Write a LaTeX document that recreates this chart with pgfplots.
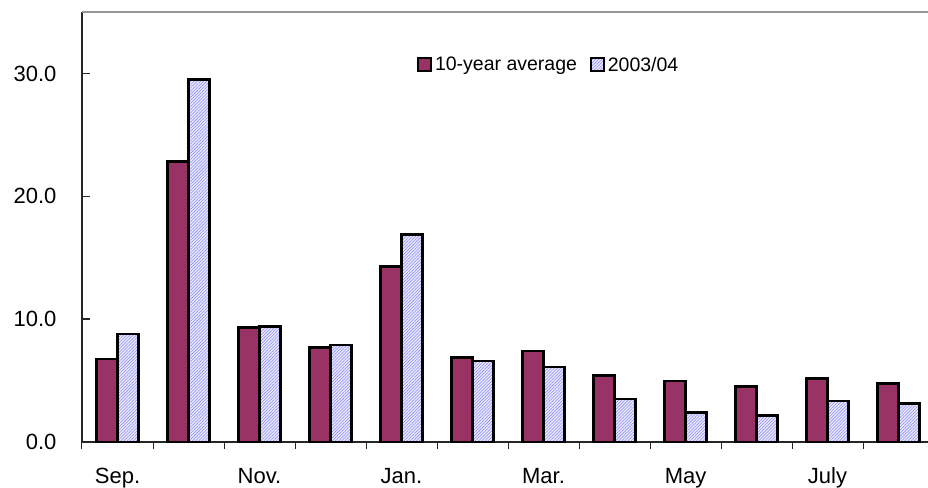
\documentclass[border=0pt]{standalone}
\usepackage{fontspec}
\setmainfont{Liberation Sans}
\usepackage{pgfplots}
\pgfplotsset{compat=1.18}
\usetikzlibrary{patterns.meta}

\definecolor{avgpurple}{RGB}{153,51,102}
\definecolor{hatchbg}{RGB}{232,232,255}
\definecolor{hatchline}{RGB}{140,140,245}
\definecolor{framegray}{RGB}{150,150,150}

% Monthly values: 10-year average and 2003/04
\pgfplotstableread{
idx avg    cur
0   6.74   8.80
1   22.85  29.50
2   9.30   9.40
3   7.70   7.90
4   14.30  16.90
5   6.90   6.60
6   7.40   6.10
7   5.40   3.50
8   4.97   2.42
9   4.50   2.17
10  5.16   3.34
11  4.75   3.15
}\monthly

\begin{document}
\begin{tikzpicture}
\begin{axis}[
  scale only axis,
  width=846pt, height=430pt,
  xmin=-0.5, xmax=11.415,
  ymin=0, ymax=35,
  ybar=0pt, bar width=21pt,
  axis x line*=bottom, axis y line*=left,
  axis line style={-, black!85, line width=1.4pt},
  xtick={0,2,4,6,8,10},
  xticklabels={Sep., Nov., Jan., Mar., May, July},
  xtick style={draw=none},
  minor xtick={-0.5,0.5,...,10.5},
  minor x tick style={draw=black!85, line width=1pt},
  minor tick length=7pt,
  xtick align=outside,
  ytick={0,10,20,30},
  ytick pos=left,
  ytick align=inside,
  major tick length=8pt,
  y tick style={draw=black!85, line width=1.3pt},
  /pgf/number format/fixed,
  /pgf/number format/fixed zerofill,
  /pgf/number format/precision=1,
  /pgf/number format/assume math mode=true,
  tick label style={font=\fontsize{22pt}{26pt}\selectfont},
  yticklabel style={anchor=east, xshift=-22pt},
  xticklabel style={anchor=base, yshift=-33pt},
  legend style={draw=none, fill=none, inner sep=0pt,
    at={(axis description cs:0.396,0.877)}, anchor=west,
    font=\fontsize{19.5pt}{23pt}\selectfont,
    nodes={inner sep=3pt},
    /tikz/every even column/.append style={column sep=10pt}},
  legend columns=2,
  legend image code/.code={\draw[#1, line width=1.8pt] (0pt,-6.5pt) rectangle (13pt,6.5pt);},
  clip=false,
]
\addplot[draw=black, line width=2.6pt, fill=avgpurple] table[x=idx, y=avg] {\monthly};
\addplot[draw=black, line width=2.6pt, fill=hatchbg, postaction={pattern={Lines[angle=45,distance=2.2pt,line width=0.55pt]}, pattern color=hatchline}] table[x=idx, y=cur] {\monthly};
\legend{10-year average, 2003/04}
\draw[framegray, line width=1.8pt] (rel axis cs:0,1) -- (rel axis cs:1,1);
\end{axis}
\pgfresetboundingbox
\path[use as bounding box] ([shift={(-82pt,-45pt)}]current axis.south west) rectangle ([shift={(0pt,12pt)}]current axis.north east);
\end{tikzpicture}
\end{document}
